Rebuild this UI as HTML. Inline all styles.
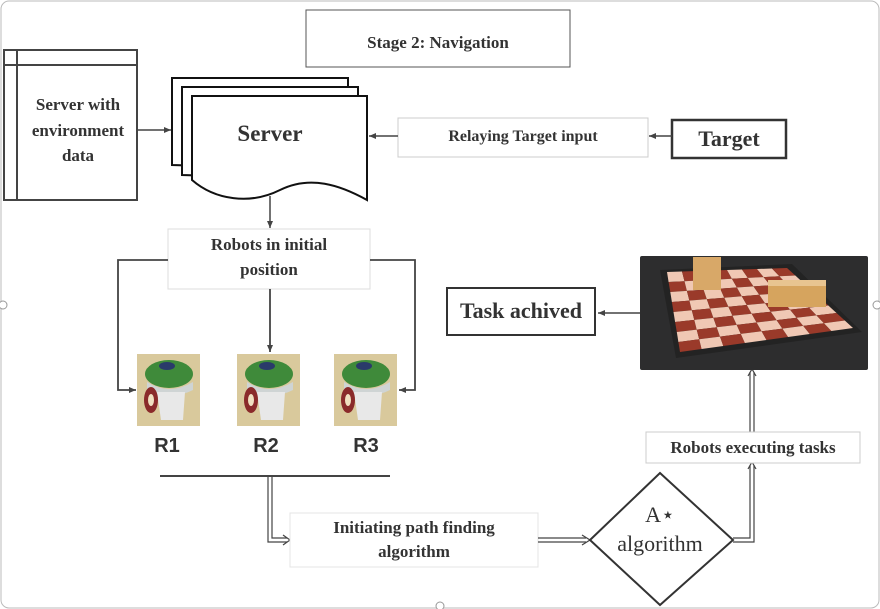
<!DOCTYPE html>
<html><head><meta charset="utf-8"><style>
html,body{margin:0;padding:0;background:#fff}
svg{display:block}
.s{font-family:"Liberation Serif",serif;font-weight:bold;fill:#333}
</style></head><body>
<svg id="sv" width="880" height="609" viewBox="0 0 880 609" xmlns="http://www.w3.org/2000/svg">
<defs>
<marker id="ar" markerWidth="8" markerHeight="8" refX="7" refY="4" orient="auto" markerUnits="userSpaceOnUse"><path d="M0,1 L7,4 L0,7 z" fill="#444"/></marker>
<g id="rob">
<rect x="0" y="0" width="63" height="72" fill="#d9c99c"/>
<ellipse cx="32" cy="20" rx="24" ry="14" fill="#3f8a3a"/>
<ellipse cx="30" cy="12" rx="8" ry="4" fill="#2a3a6a"/>
<path d="M10,28 Q32,42 56,28 L56,36 Q32,48 10,36 Z" fill="#cfd4d4"/>
<path d="M20,38 L48,38 L46,66 L24,66 Z" fill="#e8e8e8"/>
<ellipse cx="14" cy="46" rx="7" ry="13" fill="#8a2a2a"/>
<ellipse cx="14" cy="46" rx="3" ry="6" fill="#f0e0c0"/>
</g>
</defs>
<rect x="1" y="1" width="878" height="607" rx="8" fill="none" stroke="#bbb" stroke-width="1"/>
<circle cx="3" cy="305" r="4" fill="#fff" stroke="#999"/>
<circle cx="877" cy="305" r="4" fill="#fff" stroke="#999"/>
<circle cx="440" cy="606" r="4" fill="#fff" stroke="#999"/>

<rect x="306" y="10" width="264" height="57" fill="#fff" stroke="#555" stroke-width="1"/>
<text x="438" y="48" text-anchor="middle" class="s" font-size="17">Stage 2: Navigation</text>

<rect x="4" y="50" width="133" height="150" fill="#fff" stroke="#444" stroke-width="2"/>
<line x1="17" y1="50" x2="17" y2="200" stroke="#444" stroke-width="2"/>
<line x1="4" y1="65" x2="137" y2="65" stroke="#444" stroke-width="2"/>
<text x="78" y="110" text-anchor="middle" class="s" font-size="17">Server with</text>
<text x="78" y="136" text-anchor="middle" class="s" font-size="17">environment</text>
<text x="78" y="161" text-anchor="middle" class="s" font-size="17">data</text>
<line x1="137" y1="130" x2="171" y2="130" stroke="#444" stroke-width="1.5" marker-end="url(#ar)"/>

<path d="M172,78 H348 V170 L172,165 Z" fill="#fff" stroke="#111" stroke-width="2"/>
<path d="M182,87 H358 V180 L182,175 Z" fill="#fff" stroke="#111" stroke-width="2"/>
<path d="M192,96 H367 V200 C340,185 310,175 280,190 C250,205 215,200 192,180 Z" fill="#fff" stroke="#111" stroke-width="2"/>
<text x="270" y="141" text-anchor="middle" class="s" font-size="23">Server</text>
<line x1="270" y1="196" x2="270" y2="228" stroke="#444" stroke-width="1.5" marker-end="url(#ar)"/>

<rect x="398" y="118" width="250" height="39" fill="#fff" stroke="#ccc" stroke-width="1"/>
<text x="523" y="141" text-anchor="middle" class="s" font-size="16">Relaying Target input</text>
<line x1="398" y1="136" x2="369" y2="136" stroke="#444" stroke-width="1.5" marker-end="url(#ar)"/>
<rect x="672" y="120" width="114" height="38" fill="#fff" stroke="#333" stroke-width="2.5"/>
<text x="729" y="146" text-anchor="middle" class="s" font-size="22">Target</text>
<line x1="672" y1="136" x2="649" y2="136" stroke="#444" stroke-width="1.5" marker-end="url(#ar)"/>

<rect x="168" y="229" width="202" height="60" fill="#fff" stroke="#ddd" stroke-width="1"/>
<text x="269" y="250" text-anchor="middle" class="s" font-size="17">Robots in initial</text>
<text x="269" y="275" text-anchor="middle" class="s" font-size="17">position</text>
<polyline points="168,260 118,260 118,390 136,390" fill="none" stroke="#444" stroke-width="1.8" marker-end="url(#ar)"/>
<polyline points="370,260 415,260 415,390 399,390" fill="none" stroke="#444" stroke-width="1.8" marker-end="url(#ar)"/>
<line x1="270" y1="289" x2="270" y2="352" stroke="#444" stroke-width="1.8" marker-end="url(#ar)"/>

<use href="#rob" transform="translate(137,354)"/>
<use href="#rob" transform="translate(237,354)"/>
<use href="#rob" transform="translate(334,354)"/>
<g font-family="Liberation Sans,sans-serif" font-weight="bold" font-size="20" fill="#333" text-anchor="middle">
<text x="167" y="452">R1</text><text x="266" y="452">R2</text><text x="366" y="452">R3</text></g>

<line x1="160" y1="476" x2="390" y2="476" stroke="#444" stroke-width="2"/>
<g fill="none" stroke="#444" stroke-width="1.2">
<polyline points="268,476 268,542 287,542"/>
<polyline points="272,476 272,538 287,538"/>
</g>
<path d="M283,535 L290,540 L283,545" fill="none" stroke="#444" stroke-width="1.2"/>

<rect x="290" y="513" width="248" height="54" fill="#fff" stroke="#e4e4e4" stroke-width="1"/>
<text x="414" y="533" text-anchor="middle" class="s" font-size="17">Initiating path finding</text>
<text x="414" y="557" text-anchor="middle" class="s" font-size="17">algorithm</text>
<g stroke="#444" stroke-width="1.2">
<line x1="538" y1="538" x2="586" y2="538"/><line x1="538" y1="542" x2="586" y2="542"/></g>
<path d="M582,535 L590,540 L582,545" fill="none" stroke="#444" stroke-width="1.2"/>

<path d="M660,473 L733,540 L660,605 L590,540 Z" fill="#fff" stroke="#333" stroke-width="2"/>
<text x="660" y="522" text-anchor="middle" font-family="Liberation Serif,serif" font-size="22" fill="#333">A⋆</text>
<text x="660" y="551" text-anchor="middle" font-family="Liberation Serif,serif" font-size="22" fill="#333">algorithm</text>

<g fill="none" stroke="#444" stroke-width="1.2">
<polyline points="733,538 750,538 750,465"/><polyline points="733,542 754,542 754,465"/>
<line x1="750" y1="432" x2="750" y2="372"/><line x1="754" y1="432" x2="754" y2="372"/>
</g>
<path d="M748,469 L752,462 L756,469" fill="none" stroke="#444" stroke-width="1.2"/>
<path d="M748,376 L752,369 L756,376" fill="none" stroke="#444" stroke-width="1.2"/>
<rect x="646" y="432" width="214" height="31" fill="#fff" stroke="#ccc" stroke-width="1"/>
<text x="753" y="453" text-anchor="middle" class="s" font-size="17">Robots executing tasks</text>

<rect x="640" y="256" width="228" height="114" rx="2" fill="#2d2d2e"/>
<polygon points="660,270 792,264 862,332 676,358" fill="#232323"/>
<g id="board"></g>
<rect x="693" y="257" width="28" height="33" fill="#d8a868"/>
<rect x="768" y="280" width="58" height="27" fill="#d6a45e"/>
<rect x="768" y="280" width="58" height="6" fill="#e8c490"/>

<rect x="447" y="288" width="148" height="47" fill="#fff" stroke="#333" stroke-width="2"/>
<text x="521" y="318" text-anchor="middle" class="s" font-size="22">Task achived</text>
<line x1="640" y1="313" x2="598" y2="313" stroke="#444" stroke-width="1.5" marker-end="url(#ar)"/>
</svg>
<script>
(function(){
var P=[[667,272],[787,268],[853,328],[680,352]],n=8,g=document.getElementById('board'),s='';
function pt(u,v){var x=(1-u)*(1-v)*P[0][0]+u*(1-v)*P[1][0]+u*v*P[2][0]+(1-u)*v*P[3][0];
var y=(1-u)*(1-v)*P[0][1]+u*(1-v)*P[1][1]+u*v*P[2][1]+(1-u)*v*P[3][1];return x.toFixed(1)+','+y.toFixed(1);}
for(var i=0;i<n;i++)for(var j=0;j<n;j++){var a=i/n,b=(i+1)/n,c=j/n,d=(j+1)/n;
s+='<polygon points="'+pt(a,c)+' '+pt(b,c)+' '+pt(b,d)+' '+pt(a,d)+'" fill="'+((i+j)%2?'#9a3a2a':'#f0c8b4')+'"/>';}
g.innerHTML=s;})();
</script>
</body></html>
